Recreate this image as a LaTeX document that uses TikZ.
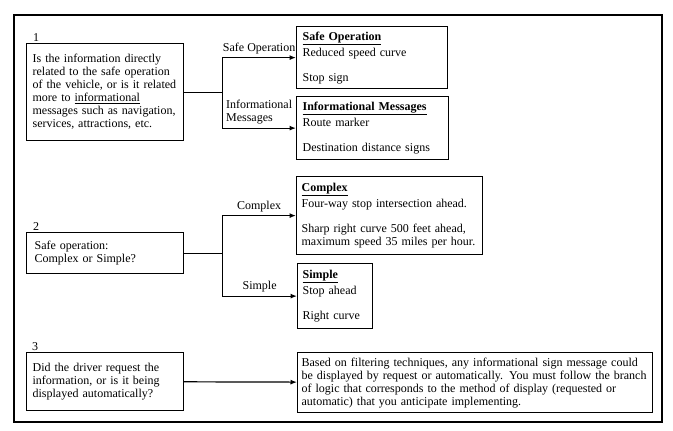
\documentclass[tikz,border=0pt]{standalone}
\usepackage{fontspec}
\setmainfont{Liberation Serif}
\usetikzlibrary{arrows.meta,positioning}

\newcommand{\boxhead}[1]{\textbf{\underline{#1}}}

\begin{document}
\begin{tikzpicture}[x=1pt,y=-1pt,
    every node/.style={font=\fontsize{12}{13}\selectfont},
    box/.style={draw, line width=1.2pt, anchor=north west, inner xsep=6pt, inner ysep=0pt, align=left},
    num/.style={inner sep=1pt},
    link/.style={line width=1.2pt},
    arrow/.style={link, -{Latex[length=6.5pt,width=5pt]}}]

    \useasboundingbox (0,0) rectangle (673,431);
    \draw[line width=1.4pt] (14,15) rectangle (662,422);

    % question 1
    \node[box, minimum width=157pt, minimum height=97pt, text width=145pt] (q1) at (26,43)
        {Is the information directly\\ related to the safe operation\\ of the vehicle, or is it related\\
         more to \underline{informational}\\ messages such as navigation,\\ services, attractions, etc.};
    \node[num, above right=0pt and 6pt of q1.north west] (n1) {1};

    \node[box, minimum width=151pt, minimum height=62pt, text width=139pt] (so) at (296,26)
        {\boxhead{Safe Operation}\\[3pt] Reduced speed curve\\[12pt] Stop sign};
    \node[box, minimum width=152pt, minimum height=63pt, text width=140pt] (im) at (296,96)
        {\boxhead{Informational Messages}\\[3pt] Route marker\\[12pt] Destination distance signs};

    \draw[link] (q1.east) -- ++(38,0) coordinate (b1);
    \draw[arrow] (b1) |- node[pos=0.75, above] {Safe Operation} (so.west);
    \draw[arrow] (b1) |- node[pos=0.75, above, align=left] {Informational\\ Messages} (im.west);

    % question 2
    \node[box, minimum width=157pt, minimum height=41pt, text width=145pt] (q2) at (26,232)
        {\hspace{2pt}Safe operation:\\ \hspace{2pt}Complex or Simple?};
    \node[num, above right=0pt and 6pt of q2.north west] (n2) {2};

    \node[box, minimum width=186pt, minimum height=78pt, text width=176pt, inner xsep=5pt] (cx) at (296,176)
        {\boxhead{Complex}\\[3pt] Four-way stop intersection ahead.\\[12pt]
         Sharp right curve 500 feet ahead,\\ maximum speed 35 miles per hour.};
    \node[box, minimum width=75pt, minimum height=65pt, text width=65pt, inner xsep=5pt] (sm) at (297,263)
        {\boxhead{Simple}\\[3pt] Stop ahead\\[12pt] Right curve};

    \draw[link] (q2.east) -- ++(38,0) coordinate (b2);
    \draw[arrow] (b2) |- node[pos=0.75, above] {Complex} (cx.west);
    \draw[arrow] (b2) |- node[pos=0.75, above] {Simple} (sm.west);

    % question 3
    \node[box, minimum width=157pt, minimum height=58pt, text width=145pt] (q3) at (26,352)
        {Did the driver request the\\ information, or is it being\\ displayed automatically?};
    \node[num, above right=0pt and 5pt of q3.north west] (n3) {3};

    \node[box, minimum width=355pt, minimum height=60pt, text width=347pt, inner xsep=4pt] (res) at (297,352)
        {Based on filtering techniques, any informational sign message could\\
         be displayed by request or automatically.  You must follow the branch\\
         of logic that corresponds to the method of display (requested or\\
         automatic) that you anticipate implementing.};

    \draw[arrow] (q3) -- (res);
\end{tikzpicture}
\end{document}
